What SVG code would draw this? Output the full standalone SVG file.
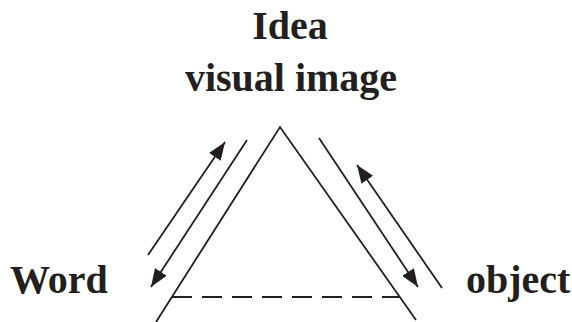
<svg xmlns="http://www.w3.org/2000/svg" width="572" height="322" viewBox="0 0 572 322">
<style>
.t{font-family:"Liberation Serif","Times New Roman",serif;font-weight:bold;font-size:40px;fill:#231f20}
.l{stroke:#231f20;stroke-width:1.8;fill:none}
</style>
<defs>
<marker id="ah" viewBox="0 0 18 14" markerWidth="18" markerHeight="14" refX="18" refY="7" orient="auto" markerUnits="userSpaceOnUse">
<path d="M0,0 L18,7 L0,14 z" fill="#231f20"/>
</marker>
</defs>
<rect width="572" height="322" fill="#fff"/>
<g id="idea"><text class="t" x="290" y="39" text-anchor="middle">Idea</text>
<text class="t" x="291" y="91" text-anchor="middle">visual image</text></g>
<g id="word"><text class="t" x="10" y="293">Word</text></g>
<g id="object"><text class="t" x="466" y="293">object</text></g>
<g id="triangle">
<polyline class="l" points="156,322 280,127 416,320"/>
<line class="l" x1="172" y1="297" x2="400" y2="297" stroke-dasharray="20 10"/>
</g>
<g id="connectors">
<line class="l" x1="247" y1="140" x2="151" y2="287" marker-end="url(#ah)"/>
<line class="l" x1="148" y1="255" x2="225" y2="142" marker-end="url(#ah)"/>
<line class="l" x1="319" y1="138" x2="418" y2="287" marker-end="url(#ah)"/>
<line class="l" x1="442" y1="288" x2="357" y2="165" marker-end="url(#ah)"/>
</g>
</svg>
